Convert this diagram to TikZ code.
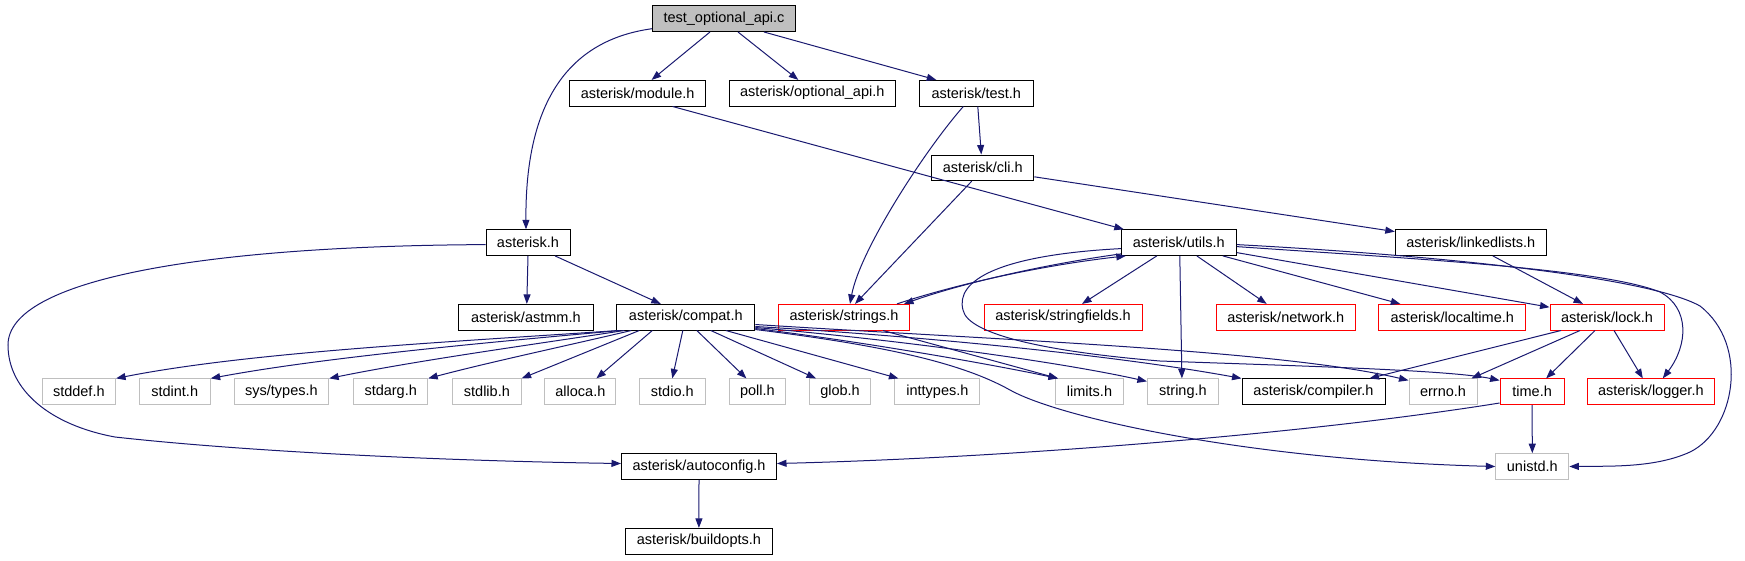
\documentclass[tikz,border=0pt]{standalone}
\usepackage{fontspec}
\setmainfont{Liberation Sans}
\usetikzlibrary{arrows.meta}
\definecolor{edgeblue}{HTML}{191970}
\definecolor{extgray}{HTML}{BFBFBF}
\definecolor{redb}{HTML}{FF0000}
\begin{document}
\begin{tikzpicture}[x=1pt,y=-1pt,
  box/.style={draw=black, line width=1pt, minimum height=25.6pt, inner sep=0pt,
              font=\fontsize{14.5}{17}\selectfont, anchor=center},
  sysbox/.style={box, draw=extgray},
  redbox/.style={box, draw=redb},
  edge/.style={draw=edgeblue, line width=1pt, -{Triangle[length=9.5pt,width=7pt]}}]
\useasboundingbox (0,0) rectangle (1745,560);

% row 0
\node[box, fill=extgray, minimum width=143pt] (root) at (724,18.7) {test\_optional\_api.c};
% row 1
\node[box, minimum width=136pt] (module) at (637.6,93.2) {asterisk/module.h};
\node[box, minimum width=166pt] (optapi) at (812.3,93.2) {asterisk/optional\_api.h};
\node[box, minimum width=114pt] (test) at (976.3,93.2) {asterisk/test.h};
% row 2
\node[box, minimum width=102pt] (cli) at (982.8,167.8) {asterisk/cli.h};
% row 3
\node[box, minimum width=84pt] (ast) at (528,242.6) {asterisk.h};
\node[box, minimum width=115pt] (utils) at (1178.8,242.6) {asterisk/utils.h};
\node[box, minimum width=151pt] (linked) at (1470.8,242.6) {asterisk/linkedlists.h};
% row 4
\node[box, minimum width=135pt] (astmm) at (525.8,317.2) {asterisk/astmm.h};
\node[box, minimum width=138pt] (compat) at (685.8,317.2) {asterisk/compat.h};
\node[redbox, minimum width=131pt] (strings) at (844,317.2) {asterisk/strings.h};
\node[redbox, minimum width=158pt] (stringfields) at (1063,317.2) {asterisk/stringfields.h};
\node[redbox, minimum width=139pt] (network) at (1285.7,317.2) {asterisk/network.h};
\node[redbox, minimum width=147pt] (localtime) at (1452.3,317.2) {asterisk/localtime.h};
\node[redbox, minimum width=114pt] (lock) at (1607,317.2) {asterisk/lock.h};
% row 5
\node[sysbox, minimum width=73.5pt] (stddef) at (78.8,391.7) {stddef.h};
\node[sysbox, minimum width=71pt] (stdint) at (174.7,391.7) {stdint.h};
\node[sysbox, minimum width=94.5pt] (systypes) at (281.4,391.7) {sys/types.h};
\node[sysbox, minimum width=74pt] (stdarg) at (390.7,391.7) {stdarg.h};
\node[sysbox, minimum width=68.5pt] (stdlib) at (486.9,391.7) {stdlib.h};
\node[sysbox, minimum width=71pt] (alloca) at (580.4,391.7) {alloca.h};
\node[sysbox, minimum width=65.5pt] (stdio) at (672.3,391.7) {stdio.h};
\node[sysbox, minimum width=56pt] (poll) at (757.4,391.7) {poll.h};
\node[sysbox, minimum width=61pt] (glob) at (840,391.7) {glob.h};
\node[sysbox, minimum width=85pt] (inttypes) at (937.4,391.7) {inttypes.h};
\node[sysbox, minimum width=68pt] (limits) at (1089.5,391.7) {limits.h};
\node[sysbox, minimum width=71pt] (string) at (1182.9,391.7) {string.h};
\node[box, minimum width=143pt] (compiler) at (1313.5,391.7) {asterisk/compiler.h};
\node[sysbox, minimum width=68pt] (errno) at (1443,391.7) {errno.h};
\node[redbox, minimum width=64pt] (time) at (1532.1,391.7) {time.h};
\node[redbox, minimum width=127pt] (logger) at (1650.8,391.7) {asterisk/logger.h};
% row 6
\node[box, minimum width=155pt] (autoconfig) at (699,466.5) {asterisk/autoconfig.h};
\node[sysbox, minimum width=73pt] (unistd) at (1532.3,466.5) {unistd.h};
% row 7
\node[box, minimum width=147pt] (buildopts) at (698.9,541.2) {asterisk/buildopts.h};

% edges from root
\draw[edge] ([yshift=-10pt]root.west) .. controls (570,40) and (525,100) .. ([xshift=-2pt]ast.north);
\draw[edge] ([xshift=-14pt]root.south) -- ([xshift=14pt]module.north);
\draw[edge] ([xshift=14pt]root.south) -- ([xshift=-14pt]optapi.north);
\draw[edge] ([xshift=40pt]root.south) -- ([xshift=-40pt]test.north);
% test, cli, module
\draw[edge] ([xshift=1.5pt]test.south) -- ([xshift=-1.5pt]cli.north);
\draw[edge] ([xshift=-13pt]test.south) .. controls (925,150) and (860,250) .. ([xshift=6pt]strings.north);
\draw[edge] ([xshift=-11pt]cli.south) -- ([xshift=11pt]strings.north);
\draw[edge] ([yshift=-9pt]cli.east) -- ([yshift=11pt]linked.west);
\draw[edge] ([xshift=35pt]module.south) -- ([xshift=3pt]utils.north west);
% asterisk.h
\draw[edge] (ast.south) -- ([xshift=1pt]astmm.north);
\draw[edge] ([xshift=27pt]ast.south) -- ([xshift=-25pt]compat.north);
\draw[edge] ([yshift=-2pt]ast.west) .. controls (200,246) and (8,280) .. (8,345)
   .. controls (8,390) and (50,425) .. (115,437)
   .. controls (250,452) and (450,461) .. ([yshift=3pt]autoconfig.west);
% compat.h to the left
\draw[edge] ([xshift=2pt]compat.south west) .. controls (450,342) and (250,352) .. (stddef.north east);
\draw[edge] ([xshift=4pt]compat.south west) .. controls (480,343) and (320,358) .. (stdint.north east);
\draw[edge] ([xshift=8pt]compat.south west) .. controls (530,345) and (420,360) .. (systypes.north east);
\draw[edge] ([xshift=15pt]compat.south west) .. controls (570,345) and (490,362) .. (stdarg.north east);
\draw[edge] ([xshift=23pt]compat.south west) -- (stdlib.north east);
\draw[edge] ([xshift=36pt]compat.south west) -- ([xshift=16pt]alloca.north);
\draw[edge] ([xshift=-3pt]compat.south) -- (stdio.north);
\draw[edge] ([xshift=11pt]compat.south) -- ([xshift=-11pt]poll.north);
\draw[edge] ([xshift=25pt]compat.south) -- ([xshift=-24pt]glob.north);
\draw[edge] ([xshift=40pt]compat.south) -- ([xshift=4pt]inttypes.north west);
% compat.h to the right
\draw[edge] ([yshift=2pt]compat.south east) .. controls (850,340) and (980,362) .. ([xshift=3pt]limits.north west);
\draw[edge] ([yshift=3pt]compat.south east) .. controls (900,340) and (1060,362) .. ([yshift=-3pt]string.north west);
\draw[edge] ([yshift=4pt]compat.south east) .. controls (950,338) and (1130,358) .. (compiler.north west);
\draw[edge] ([yshift=6pt]compat.south east) .. controls (1000,340) and (1280,350) .. ([yshift=-2pt]errno.north west);
\draw[edge] ([yshift=1pt]compat.south east) .. controls (880,345) and (960,362) .. (1010,390)
   .. controls (1060,418) and (1250,460) .. (unistd.west);
\draw[edge] ([xshift=39pt]strings.south) -- ([xshift=3pt]limits.north west);
% utils.h
\draw[edge] ([yshift=2pt]utils.south west) .. controls (1040,265) and (960,284) .. ([xshift=-6pt]strings.north east);
\draw[edge] ([xshift=-13pt]strings.north east) .. controls (960,283) and (1045,265) .. ([xshift=5pt]utils.south west);
\draw[edge] ([yshift=-6pt]utils.west) .. controls (1000,255) and (955,280) .. (963,310)
   .. controls (968,335) and (1050,352) .. (1160,361)
   .. controls (1300,366) and (1450,370) .. ([yshift=-2pt]time.north west);
\draw[edge] ([xshift=-22pt]utils.south) -- ([xshift=19pt]stringfields.north);
\draw[edge] ([xshift=1pt]utils.south) -- ([xshift=-1pt]string.north);
\draw[edge] ([xshift=18pt]utils.south) -- ([xshift=-19pt]network.north);
\draw[edge] ([xshift=44pt]utils.south) -- ([xshift=-52pt]localtime.north);
\draw[edge] ([yshift=-10pt]utils.east) -- ([yshift=10pt]lock.west);
\draw[edge] ([yshift=-4pt]utils.east) .. controls (1400,258) and (1600,268) .. (1660,292)
   .. controls (1690,308) and (1688,345) .. ([xshift=12pt]logger.north);
\draw[edge] ([yshift=-2pt]utils.east) .. controls (1450,256) and (1650,278) .. (1700,306)
   .. controls (1750,345) and (1735,430) .. (1690,452)
   .. controls (1655,468) and (1610,466) .. (unistd.east);
% linkedlists, lock
\draw[edge] ([xshift=22pt]linked.south) -- ([xshift=-24pt]lock.north);
\draw[edge] ([xshift=-46pt]lock.south) -- ([xshift=-16pt]compiler.north east);
\draw[edge] ([xshift=-27pt]lock.south) -- ([xshift=-6pt]errno.north east);
\draw[edge] ([xshift=-12pt]lock.south) -- ([xshift=14pt]time.north);
\draw[edge] ([xshift=7pt]lock.south) -- ([xshift=-8pt]logger.north);
% time.h, autoconfig.h
\draw[edge] (time.south) -- (unistd.north);
\draw[edge] ([yshift=2pt]time.south west) .. controls (1300,435) and (1000,458) .. ([yshift=3pt]autoconfig.east);
\draw[edge] (autoconfig.south) -- (buildopts.north);
\end{tikzpicture}
\end{document}
